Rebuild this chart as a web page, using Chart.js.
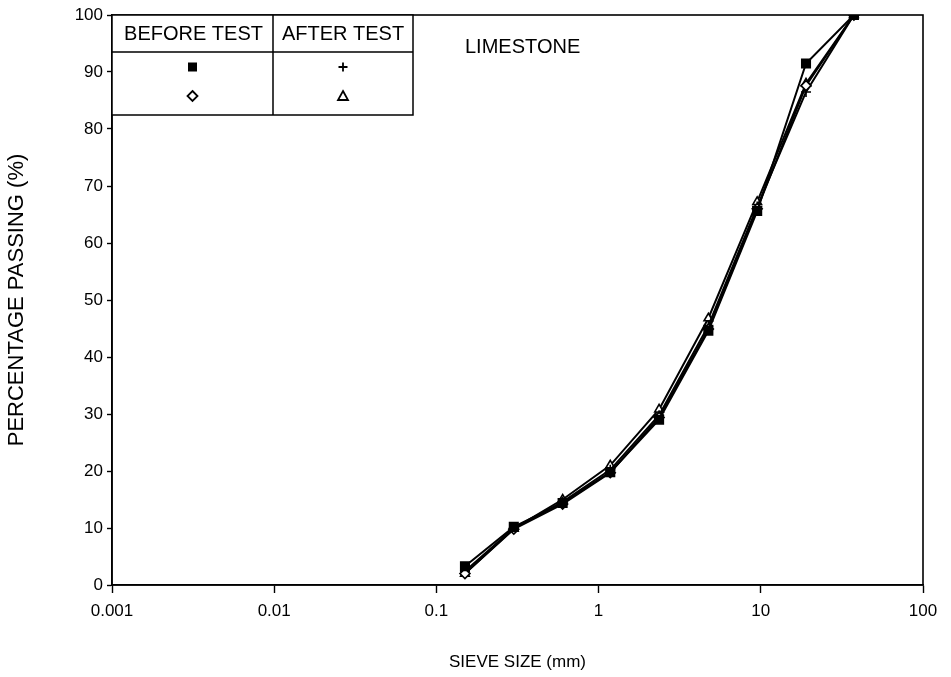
<!DOCTYPE html>
<html>
<head>
<meta charset="utf-8">
<script src="https://cdn.jsdelivr.net/npm/chart.js@4.4.0/dist/chart.umd.min.js"></script>
<style>
  html, body { margin: 0; padding: 0; background: #fff; }
  #wrap { width: 951px; height: 677px; position: relative; }
</style>
</head>
<body>
<div id="wrap"><canvas id="chart" width="951" height="677"></canvas></div>
<script>
// sieve sizes (mm)
const sieveSizes = [0.15, 0.3, 0.6, 1.18, 2.36, 4.75, 9.5, 19, 37.5];

// percentage passing
const beforeSquare  = [3.3, 10.2, 14.4, 19.8, 29.0, 44.6, 65.6, 91.5, 100];
const beforeDiamond = [2.0, 9.8, 14.2, 19.7, 29.4, 44.9, 66.0, 87.6, 100];
const afterPlus     = [2.4, 10.0, 14.6, 20.2, 29.8, 45.5, 66.4, 86.5, 100];
const afterTriangle = [2.0, 9.9, 15.0, 21.0, 30.8, 46.8, 67.2, 88.0, 100];

const xTicks = [0.001, 0.01, 0.1, 1, 10, 100];
const fam = 'Liberation Sans, Arial, sans-serif';
const tickFont = { family: fam, size: 17 };

const toPoints = (vals) => vals.map((v, i) => ({ x: sieveSizes[i], y: v }));

// frame round the plot + the legend table and LIMESTONE label
const framePlugin = {
    id: 'frame',
    afterDraw(chart) {
        const { ctx, chartArea: a } = chart;
        ctx.save();
        ctx.strokeStyle = '#000';
        ctx.lineWidth = 1.6;
        ctx.strokeRect(a.left, a.top, a.right - a.left, a.bottom - a.top);

        // legend table
        const L = a.left, T = a.top, R = 413, B = 115, mid = 273, hdr = 52;
        ctx.fillStyle = '#fff';
        ctx.fillRect(L, T, R - L, B - T);
        ctx.lineWidth = 1.5;
        ctx.strokeRect(L, T, R - L, B - T);
        ctx.beginPath();
        ctx.moveTo(mid, T); ctx.lineTo(mid, B);
        ctx.moveTo(L, hdr); ctx.lineTo(R, hdr);
        ctx.stroke();

        ctx.fillStyle = '#000';
        ctx.font = '20px ' + fam;
        ctx.textAlign = 'center';
        ctx.textBaseline = 'middle';
        ctx.fillText('BEFORE TEST', (L + mid) / 2 + 1, 34);
        ctx.fillText('AFTER TEST', (mid + R) / 2, 34);
        ctx.textAlign = 'left';
        ctx.fillText('LIMESTONE', 465, 47);

        const cx1 = (L + mid) / 2, cx2 = (mid + R) / 2, r1 = 67, r2 = 96;
        // filled square
        ctx.fillRect(cx1 - 4.5, r1 - 4.5, 9, 9);
        // diamond
        ctx.lineWidth = 1.8;
        ctx.beginPath();
        ctx.moveTo(cx1, r2 - 5); ctx.lineTo(cx1 + 5, r2); ctx.lineTo(cx1, r2 + 5); ctx.lineTo(cx1 - 5, r2); ctx.closePath();
        ctx.stroke();
        // plus
        ctx.beginPath();
        ctx.moveTo(cx2 - 4.5, r1); ctx.lineTo(cx2 + 4.5, r1);
        ctx.moveTo(cx2, r1 - 4.5); ctx.lineTo(cx2, r1 + 4.5);
        ctx.stroke();
        // triangle
        ctx.beginPath();
        ctx.moveTo(cx2, r2 - 5); ctx.lineTo(cx2 + 5, r2 + 4); ctx.lineTo(cx2 - 5, r2 + 4); ctx.closePath();
        ctx.stroke();
        ctx.restore();
    }
};

const lineDefaults = {
    borderColor: '#000',
    borderWidth: 2,
    tension: 0,
    pointBorderColor: '#000',
    pointBorderWidth: 1.6,
};

new Chart(document.getElementById('chart'), {
    type: 'line',
    data: {
        datasets: [
            { ...lineDefaults, label: 'Before (square)', data: toPoints(beforeSquare),
              pointStyle: 'rect', pointRadius: 6, pointBackgroundColor: '#000' },
            { ...lineDefaults, label: 'Before (diamond)', data: toPoints(beforeDiamond),
              pointStyle: 'rectRot', pointRadius: 5, pointBackgroundColor: '#fff' },
            { ...lineDefaults, label: 'After (plus)', data: toPoints(afterPlus),
              pointStyle: 'cross', pointRadius: 5, pointBackgroundColor: '#000' },
            { ...lineDefaults, label: 'After (triangle)', data: toPoints(afterTriangle),
              pointStyle: 'triangle', pointRadius: 5, pointBackgroundColor: '#fff' },
        ]
    },
    options: {
        responsive: false,
        animation: false,
        layout: { padding: { top: 15, right: 28, left: 0, bottom: 0 } },
        plugins: {
            legend: { display: false },
            tooltip: { enabled: false },
        },
        scales: {
            x: {
                type: 'logarithmic',
                min: 0.001,
                max: 100,
                afterBuildTicks: (scale) => { scale.ticks = xTicks.map(v => ({ value: v })); },
                afterFit: (scale) => { scale.height = 92; },
                ticks: {
                    color: '#000',
                    font: tickFont,
                    padding: 8,
                    maxRotation: 0,
                    callback: (v) => String(v),
                },
                grid: { drawOnChartArea: false, color: '#000', tickLength: 8, tickWidth: 1.4 },
                border: { color: '#000', width: 1.6 },
                title: {
                    display: true,
                    text: 'SIEVE SIZE (mm)',
                    color: '#000',
                    font: { family: fam, size: 17 },
                    padding: { top: 18 },
                },
            },
            y: {
                min: 0,
                max: 100,
                afterFit: (scale) => { scale.width = 112; },
                ticks: { stepSize: 10, color: '#000', font: tickFont, padding: 4 },
                grid: { drawOnChartArea: false, color: '#000', tickLength: 5, tickWidth: 1.4 },
                border: { color: '#000', width: 1.6 },
                title: {
                    display: true,
                    text: 'PERCENTAGE PASSING (%)',
                    color: '#000',
                    font: { family: fam, size: 22 },
                    padding: { top: 4, bottom: 8 },
                },
            },
        },
    },
    plugins: [framePlugin],
});
</script>
</body>
</html>
